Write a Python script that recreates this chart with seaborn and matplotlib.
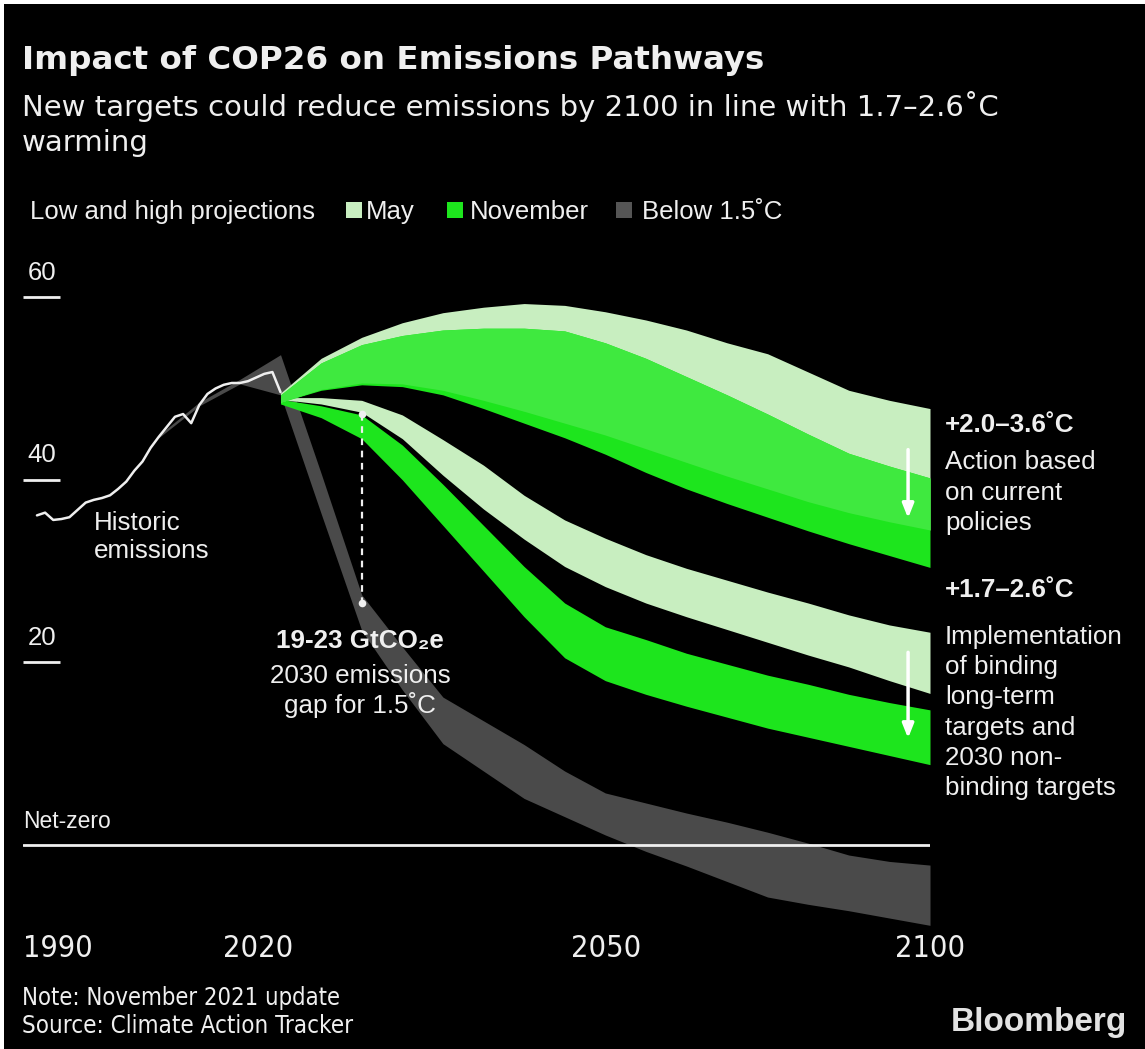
import numpy as np
import matplotlib
matplotlib.use("Agg")
import matplotlib.pyplot as plt
from matplotlib.patches import Rectangle
import seaborn as sns

# ---------------- data (GtCO2e) ----------------
hist_years = list(range(1990, 2021))
hist_emissions = [36.1, 36.4, 35.6, 35.7, 35.9, 36.7, 37.5, 37.8, 38.0, 38.3,
                  39.0, 39.8, 41.0, 42.0, 43.5, 44.7, 45.8, 46.9, 47.2, 46.2,
                  48.2, 49.4, 50.0, 50.4, 50.6, 50.6, 50.8, 51.2, 51.6, 51.8,
                  49.6]

proj_years = list(range(2020, 2101, 5))

# current policies, May update
may_current_high = [49.5, 53.3, 55.6, 57.2, 58.3, 58.9, 59.3, 59.1, 58.4, 57.5,
                    56.4, 55.0, 53.8, 51.8, 49.8, 48.7, 47.8]
may_current_low = [48.5, 49.9, 50.6, 50.5, 49.8, 48.7, 47.5, 46.2, 44.9, 43.4,
                   41.9, 40.4, 39.0, 37.6, 36.4, 35.4, 34.5]
# current policies, November update
nov_current_high = [49.3, 52.8, 54.8, 55.8, 56.4, 56.6, 56.6, 56.3, 55.0, 53.3,
                    51.3, 49.3, 47.2, 45.0, 42.9, 41.5, 40.2]
nov_current_low = [48.5, 49.8, 50.4, 50.2, 49.3, 47.8, 46.2, 44.6, 42.8, 40.8,
                   39.0, 37.4, 35.9, 34.4, 33.0, 31.7, 30.4]

# binding long-term and 2030 targets, May update
may_targets_high = [49.0, 49.0, 48.7, 47.1, 44.4, 41.6, 38.3, 35.6, 33.6, 31.8,
                    30.3, 29.0, 27.7, 26.5, 25.2, 24.1, 23.3]
may_targets_low = [48.8, 48.3, 47.4, 44.5, 40.5, 36.8, 33.5, 30.5, 28.3, 26.5,
                   25.0, 23.6, 22.2, 20.8, 19.5, 18.0, 16.6]
# binding long-term and 2030 targets, November update
nov_targets_high = [48.8, 48.1, 47.1, 43.8, 39.5, 35.0, 30.5, 26.5, 23.9, 22.5,
                    21.0, 19.8, 18.6, 17.6, 16.5, 15.6, 14.8]
nov_targets_low = [48.3, 46.8, 44.5, 40.0, 35.0, 30.0, 25.0, 20.5, 18.0, 16.5,
                   15.2, 14.0, 12.8, 11.8, 10.8, 9.8, 8.8]

# 1.5C compatible pathway
gray_years = [2005, 2010, 2015] + proj_years
below15_high = [44.9, 48.5, 51.0, 53.7, 40.7, 27.4, 21.7, 16.2, 13.6, 11.0, 8.1,
                5.7, 4.6, 3.5, 2.5, 1.4, 0.2, -1.1, -1.8, -2.2]
below15_low = [44.6, 48.1, 50.5, 49.3, 36.3, 23.5, 17.0, 11.1, 8.1, 5.1, 3.1,
               1.1, -0.7, -2.3, -4.0, -5.7, -6.5, -7.2, -8.0, -8.8]

gap_year = 2030
gap_top, gap_bottom = 47.2, 26.5

y_ticks = [60, 40, 20]
x_labels = ["1990", "2020", "2050", "2100"]
x_label_pos = [1992.6, 2017.2, 2060.1, 2100.0]

legend_labels = ["May", "November", "Below 1.5\u02daC"]

# ---------------- style ----------------
BG = "#000000"
MAY = "#c8eec0"
NOV = "#1de51d"
OVERLAP = "#3fe93f"
GRAY = "#4a4a4a"
TXT = "#efefef"
BODY = ["Liberation Sans", "DejaVu Sans"]
HEAD = ["DejaVu Sans"]
FS = 18.7

sns.set_theme(style="dark")
plt.rcParams["font.family"] = BODY

W, H = 1145, 1049
fig = plt.figure(figsize=(W / 100, H / 100), dpi=100, facecolor="white")
fig.patches.append(Rectangle((4 / W, 0), 1, 1 - 4 / H, transform=fig.transFigure,
                             facecolor=BG, edgecolor="none", zorder=-10))


def fx(px):
    return px / W


def fy(py):
    return 1 - py / H


ax = fig.add_axes([fx(23), fy(936.3), (930 - 23) / W, (936.3 - 278.9) / H])
ax.set_facecolor("none")
ax.set_xlim(1988.28, 2100)
ax.set_ylim(-10, 62)
for s in ax.spines.values():
    s.set_visible(False)
ax.grid(False)

# bands
ax.fill_between(gray_years, below15_low, below15_high, color=GRAY, lw=0, zorder=1)
ax.fill_between(proj_years, may_targets_low, may_targets_high, color=MAY, lw=0, zorder=2)
ax.fill_between(proj_years, nov_targets_low, nov_targets_high, color=NOV, lw=0, zorder=2)
ax.fill_between(proj_years, may_current_low, may_current_high, color=MAY, lw=0, zorder=3)
ax.fill_between(proj_years, nov_current_low, nov_current_high, color=NOV, lw=0, zorder=3)
ov_low = np.maximum(may_current_low, nov_current_low)
ov_high = np.minimum(may_current_high, nov_current_high)
ax.fill_between(proj_years, ov_low, ov_high, where=ov_high > ov_low,
                color=OVERLAP, lw=0, zorder=4)

# historic emissions
sns.lineplot(x=hist_years, y=hist_emissions, ax=ax, color=TXT, linewidth=1.8,
             zorder=5)

# net-zero line
ax.axhline(0, color=TXT, lw=2, zorder=6)
ax.text(1988.28, 1.3, "Net-zero", color=TXT, fontsize=16.5, va="bottom", ha="left")

# y tick marks with labels above
ax.hlines(y_ticks, 0, 0.041, transform=ax.get_yaxis_transform(), color=TXT, lw=2)
for v in y_ticks:
    ax.annotate(str(v), xy=(0.021, v), xycoords=ax.get_yaxis_transform(),
                xytext=(0, 17.5), textcoords="offset points", ha="center",
                va="center", color=TXT, fontsize=18.5)
ax.set_yticks([])

# x labels
ax.set_xticks(x_label_pos)
ax.set_xticklabels(x_labels, color=TXT, fontsize=22, family="DejaVu Sans",
                   fontstretch="condensed")
ax.tick_params(axis="x", length=0, pad=-2)

# gap marker
ax.plot([gap_year, gap_year], [gap_top, gap_bottom], color=TXT, lw=1.6,
        ls=(0, (3, 2.5)), zorder=7)
ax.scatter([gap_year, gap_year], [gap_top, gap_bottom], color=TXT, s=30,
           zorder=8, linewidths=0)

# arrows
for y0, y1 in [(43.3, 35.8), (21.1, 11.7)]:
    ax.annotate("", xy=(2097.3, y1), xytext=(2097.3, y0),
                arrowprops=dict(arrowstyle="-|>,head_length=0.7,head_width=0.28",
                                color="white", lw=2.5, shrinkA=0, shrinkB=0),
                zorder=9)

# annotations on the chart
ax.text(1997.0, 33.7, "Historic\nemissions", color=TXT, fontsize=FS,
        va="center", ha="left", linespacing=1.2)
fig.text(fx(360), fy(641), "19-23 GtCO\u2082e", color=TXT, fontsize=FS,
         fontweight="bold", ha="center", va="center")
fig.text(fx(360), fy(691), "2030 emissions\ngap for 1.5\u02daC", color=TXT,
         fontsize=FS, ha="center", va="center", linespacing=1.23)

fig.text(fx(945), fy(425), "+2.0\u20133.6\u02daC", color=TXT, fontsize=FS,
         fontweight="bold", ha="left", va="center")
fig.text(fx(945), fy(492.5), "Action based\non current\npolicies", color=TXT,
         fontsize=FS, ha="left", va="center", linespacing=1.33)
fig.text(fx(945), fy(590), "+1.7\u20132.6\u02daC", color=TXT, fontsize=FS,
         fontweight="bold", ha="left", va="center")
fig.text(fx(945), fy(712.5),
         "Implementation\nof binding\nlong-term\ntargets and\n2030 non-\nbinding targets",
         color=TXT, fontsize=FS, ha="left", va="center", linespacing=1.33)

# title block
fig.text(fx(22), fy(61), "Impact of COP26 on Emissions Pathways", color=TXT,
         fontsize=23.4, fontweight="bold", family=HEAD, ha="left", va="center")
fig.text(fx(22), fy(124), "New targets could reduce emissions by 2100 in line with 1.7\u20132.6\u02daC\nwarming",
         color=TXT, fontsize=21, family=HEAD, ha="left", va="center",
         linespacing=1.3)

# legend row
fig.text(fx(30), fy(212), "Low and high projections", color=TXT, fontsize=18.5,
         ha="left", va="center")
for sq_x, txt_x, col, lab in [(346, 366, MAY, legend_labels[0]),
                              (447, 470, NOV, legend_labels[1]),
                              (616, 642, "#555555", legend_labels[2])]:
    fig.patches.append(Rectangle((fx(sq_x), fy(218)), 16 / W, 16 / H,
                                 transform=fig.transFigure, facecolor=col,
                                 edgecolor="none"))
    fig.text(fx(txt_x), fy(212), lab, color=TXT, fontsize=18.5, ha="left",
             va="center")

# footer
fig.text(fx(22), fy(998), "Note: November 2021 update", color=TXT, fontsize=17.1,
         family="DejaVu Sans", fontstretch="condensed", ha="left", va="center")
fig.text(fx(22), fy(1026), "Source: Climate Action Tracker", color=TXT,
         fontsize=17.3, family="DejaVu Sans", fontstretch="condensed", ha="left",
         va="center")
fig.text(fx(1127), fy(1022), "Bloomberg", color="#e2e2e2", fontsize=24,
         fontweight="bold", ha="right", va="center")

fig.savefig("out.png", dpi=100, facecolor=fig.get_facecolor())
